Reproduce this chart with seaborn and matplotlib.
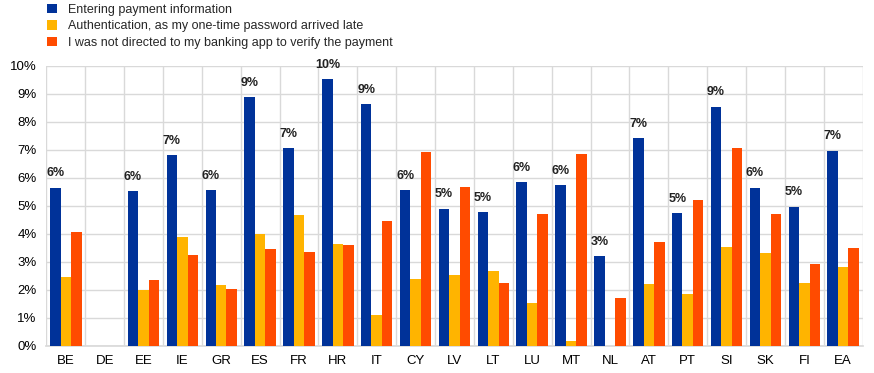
import numpy as np
import pandas as pd
import matplotlib
matplotlib.use("Agg")
import matplotlib.pyplot as plt
import seaborn as sns
from matplotlib.patches import Patch
from matplotlib.ticker import FuncFormatter, MultipleLocator

countries = ["BE", "DE", "EE", "IE", "GR", "ES", "FR", "HR", "IT", "CY",
             "LV", "LT", "LU", "MT", "NL", "AT", "PT", "SI", "SK", "FI", "EA"]
entering = [5.65, 0, 5.53, 6.81, 5.56, 8.88, 7.06, 9.52, 8.63, 5.56,
            4.89, 4.78, 5.85, 5.74, 3.21, 7.42, 4.74, 8.53, 5.64, 4.96, 6.96]
authentication = [2.46, 0, 2.00, 3.89, 2.18, 4.00, 4.67, 3.64, 1.11, 2.39,
                  2.53, 2.68, 1.53, 0.18, 0, 2.21, 1.85, 3.53, 3.32, 2.25, 2.82]
not_directed = [4.07, 0, 2.35, 3.25, 2.03, 3.46, 3.33, 3.60, 4.46, 6.92,
                5.67, 2.25, 4.71, 6.85, 1.71, 3.71, 5.21, 7.06, 4.71, 2.93, 3.50]
series_names = ["Entering payment information",
                "Authentication, as my one-time password arrived late",
                "I was not directed to my banking app to verify the payment"]
colors = ["#003299", "#FFB400", "#FF4B00"]

rows = []
for name, vals in zip(series_names, [entering, authentication, not_directed]):
    for c, v in zip(countries, vals):
        rows.append({"country": c, "series": name, "value": v})
df = pd.DataFrame(rows)

sns.set_theme(style="white")
plt.rcParams["font.family"] = ["Liberation Sans", "DejaVu Sans"]

fig = plt.figure(figsize=(8.74, 3.73), dpi=100)
ax = fig.add_axes([0.053, 0.073, 0.934, 0.751])

sns.barplot(data=df, x="country", y="value", hue="series", order=countries,
            hue_order=series_names, palette=colors, width=0.81, gap=0,
            saturation=1, errorbar=None, legend=False, ax=ax, zorder=3,
            linewidth=0)

labels = [f"{round(v):.0f}%" if v > 0 else "" for v in entering]
ax.bar_label(ax.containers[0], labels=labels, padding=6, fontsize=9,
             fontweight="bold", color="#222222")

ax.set_ylim(0, 10)
ax.set_xlim(-0.5, len(countries) - 0.5)
ax.yaxis.set_major_locator(MultipleLocator(1))
ax.yaxis.set_major_formatter(FuncFormatter(lambda v, p: f"{v:.0f}%"))
ax.set_xticks(np.arange(-0.5, len(countries), 1.0), minor=True)
ax.grid(axis="y", which="major", color="#D9D9D9", linewidth=1, zorder=0)
ax.grid(axis="x", which="minor", color="#D9D9D9", linewidth=1, zorder=0)
ax.grid(axis="x", which="major", visible=False)
ax.tick_params(axis="both", which="both", length=0, labelsize=9.5,
               colors="#000000")
ax.tick_params(axis="y", pad=7)
ax.tick_params(axis="x", pad=7)
ax.set_xlabel("")
ax.set_ylabel("")
for s in ["top", "right", "left"]:
    ax.spines[s].set_visible(False)
ax.spines["bottom"].set_color("#D9D9D9")

handles = [Patch(facecolor=c, edgecolor="none") for c in colors]
fig.legend(handles, series_names, loc="upper left",
           bbox_to_anchor=(0.045, 1.01), frameon=False, fontsize=9,
           handlelength=0.8, handleheight=0.8, handletextpad=0.9,
           labelspacing=0.35, borderaxespad=0.2)

fig.savefig("out.png", dpi=100)
